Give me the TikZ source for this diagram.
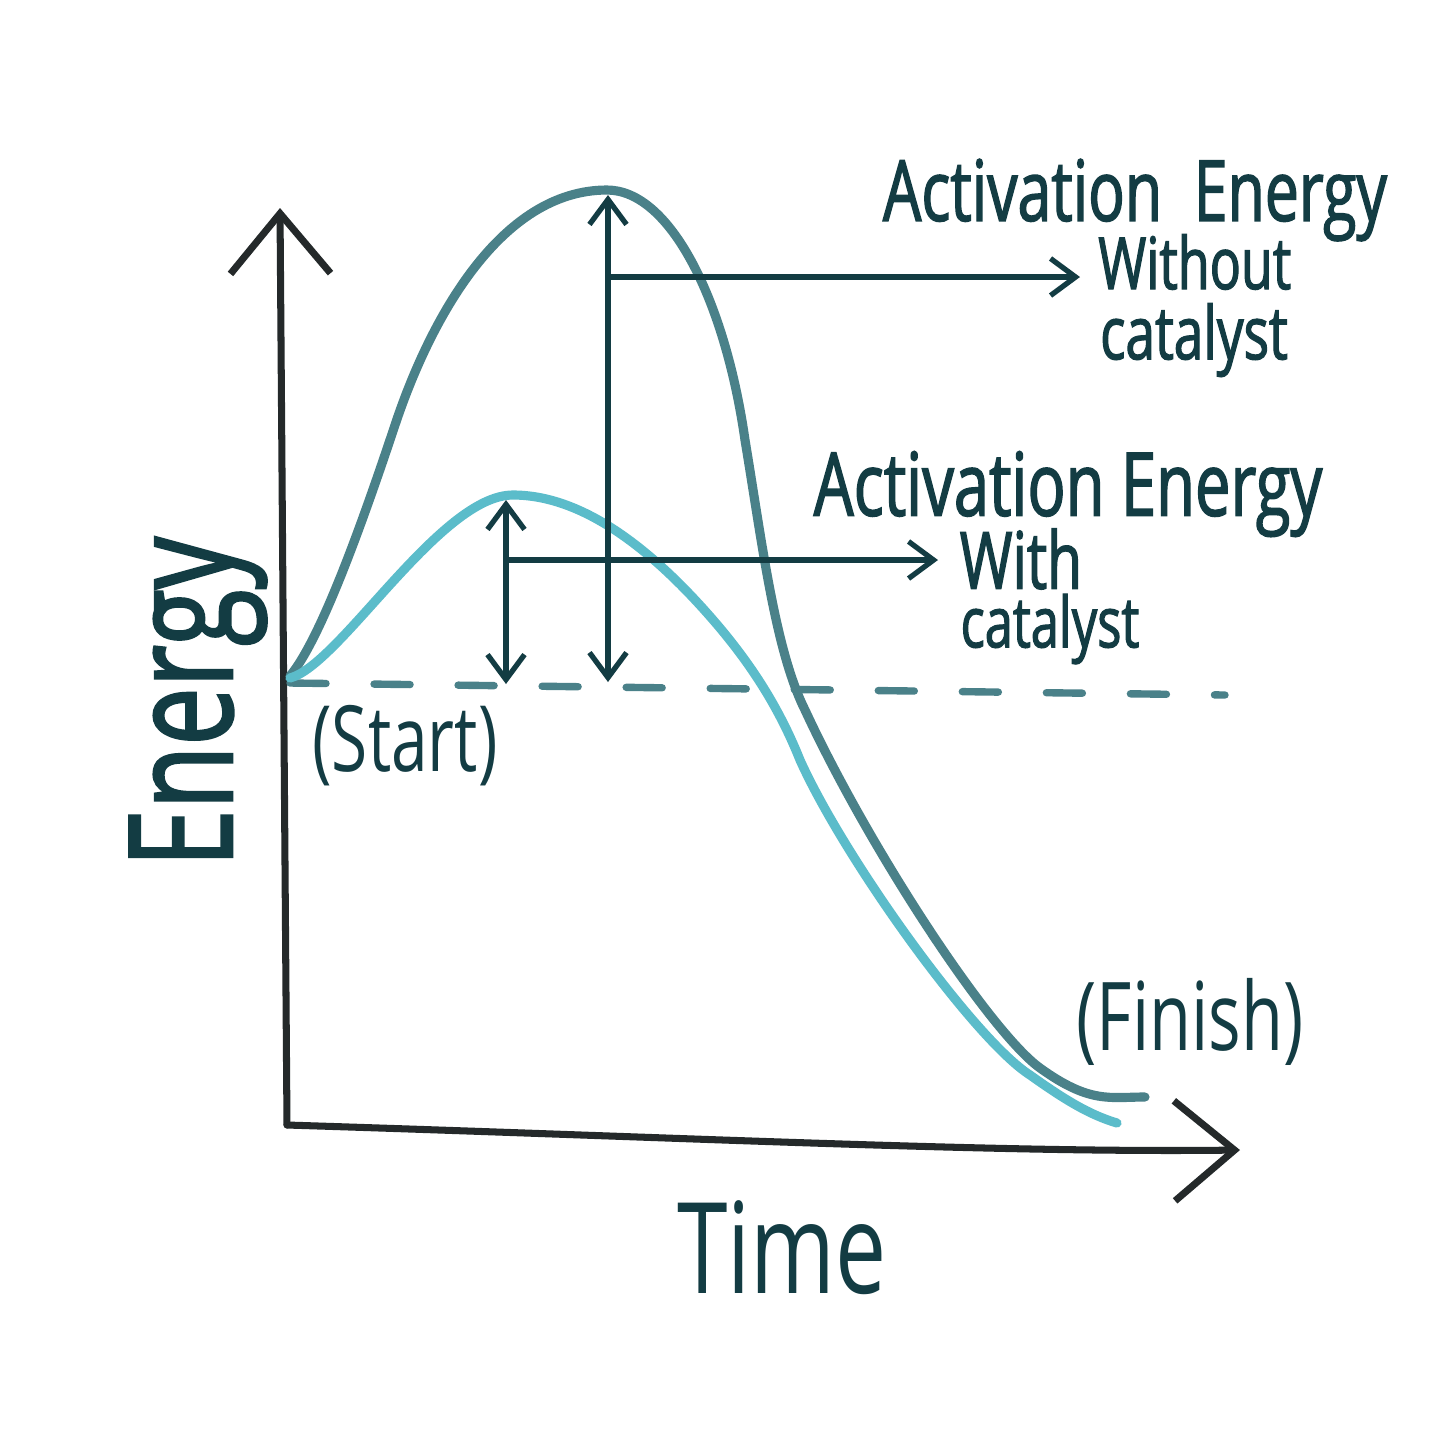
\documentclass[tikz,border=0pt]{standalone}
\usepackage{fontspec}
\setmainfont{Open Sans}[FakeStretch=0.72]
\newfontfamily\handfont{Open Sans}[FakeStretch=0.72,FakeBold=1.6]
\usetikzlibrary{arrows.meta,positioning,calc}
\definecolor{ink}{HTML}{133C43}
\definecolor{axisink}{HTML}{24292A}
\definecolor{darkteal}{HTML}{4A8189}
\definecolor{lightteal}{HTML}{5BBCCA}
\tikzset{axis/.style={axisink,line width=2pt,line cap=round,line join=round,-{Straight Barb[length=6mm,width=10mm]}},
  curve/.style={line width=2.6pt,line cap=round},
  gap/.style={ink,line width=1.5pt,{Straight Barb[length=2.5mm,width=3.7mm]}-{Straight Barb[length=2.5mm,width=3.7mm]}},
  pointer/.style={ink,line width=1.5pt,-{Straight Barb[length=2.5mm,width=3.7mm]}},
  lbl/.style={ink,inner sep=1pt}}
\begin{document}
\begin{tikzpicture}[x=.01cm,y=-.01cm]
\fill[white] (0,0) rectangle (1456,1456);\useasboundingbox (0,0) rectangle (1456,1456);
\coordinate (O) at (287,1125);\coordinate (ytop) at (280,208);\coordinate (xend) at (1240,1150);
\draw[axis] (O)--(ytop);\draw[axis] (O) .. controls (700,1138) and (1000,1153) .. (xend);
\coordinate (s0) at (290,683);\coordinate (s1) at (1225,695);
\draw[darkteal,line width=2.1pt,line cap=round,dash pattern=on .36cm off .48cm] (s0)--(s1);
\draw[curve,darkteal] (290,676) .. controls (320,640) and (360,530) .. (395,425) .. controls (430,320) and (500,190) .. (607,190)
  .. controls (670,190) and (725,300) .. (745,440) .. controls (762,542) and (775,650) .. (805,710)
  .. controls (870,850) and (990,1032) .. (1040,1068) .. controls (1090,1104) and (1110,1097) .. (1145,1097);
\draw[curve,lightteal] (290,678) .. controls (340,665) and (440,495) .. (513,495) .. controls (580,495) and (650,545) .. (720,628)
  .. controls (750,664) and (778,705) .. (800,760) .. controls (845,860) and (975,1040) .. (1030,1075)
  .. controls (1065,1100) and (1090,1115) .. (1117,1123);
\coordinate (topA) at (608,195);\coordinate (baseA) at (608,682);\coordinate (midA) at (609,277);
\coordinate (topB) at (506,500);\coordinate (baseB) at (506,684);\coordinate (midB) at (507,560);
\draw[gap] (topA)--(baseA);\draw[gap] (topB)--(baseB);
\node[lbl,font=\handfont\fontsize{24}{28}\selectfont] (actA) at (1135,200) {Activation\ \ Energy};
\node[lbl,font=\handfont\fontsize{20.5}{24}\selectfont,anchor=west,inner xsep=5pt] (withoutA) at (1080,262) {Without};
\node[lbl,font=\handfont\fontsize{21}{25}\selectfont] (catA) at (1194,340) {catalyst};
\node[lbl,font=\handfont\fontsize{25}{29}\selectfont] (actB) at (1068,494) {Activation Energy};
\node[lbl,font=\handfont\fontsize{22.5}{26}\selectfont,anchor=west,inner xsep=6pt] (withB) at (938,559) {With};
\node[lbl,font=\handfont\fontsize{20}{24}\selectfont] (catB) at (1050,629) {catalyst};
\draw[pointer] (midA)--(withoutA.west|-midA);\draw[pointer] (midB)--(withB.west|-midB);
\node[lbl,font=\handfont\fontsize{41}{45}\selectfont,rotate=90] (energy) at (198,702) {Energy};
\node[lbl,font=\fontsize{36}{40}\selectfont] (time) at (782,1248) {Time};
\node[lbl,font=\fontsize{26}{30}\selectfont] (start) at (405,746) {(Start)};
\node[lbl,font=\fontsize{27}{31}\selectfont] (finish) at (1190,1022) {(Finish)};
\end{tikzpicture}
\end{document}
